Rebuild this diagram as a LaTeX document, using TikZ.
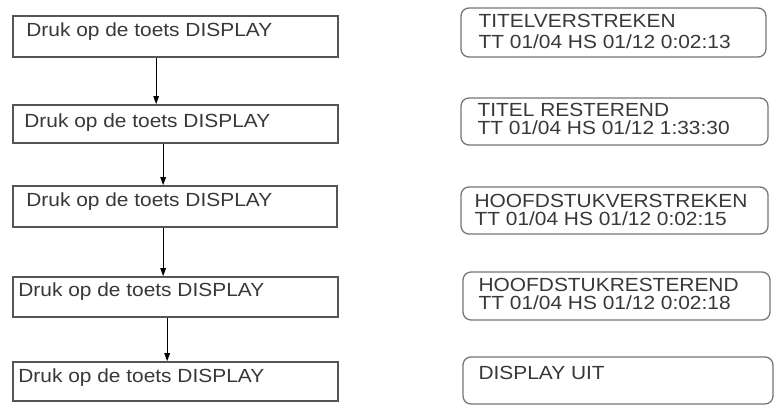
\documentclass[tikz,border=0pt]{standalone}
\usepackage{fontspec}
\setmainfont{Liberation Sans}[FakeStretch=1.1]
\usetikzlibrary{calc,arrows.meta}
\definecolor{txtgray}{HTML}{383838}
\definecolor{boxgray}{HTML}{555555}
\tikzset{
  lbox/.style={draw=boxgray, line width=1.7pt, rectangle, inner sep=0pt},
  rbox/.style={draw=boxgray!80, line width=1.3pt, rectangle, rounded corners=8pt, inner sep=0pt},
  txt/.style={inner sep=0pt, anchor=base west, text=txtgray, text height=13.5pt, text depth=0pt, font=\fontsize{19}{20}\selectfont},
  arr/.style={draw=black, line width=1.2pt, -{Triangle[length=8pt,width=5.5pt]}}
}
\begin{document}
\begin{tikzpicture}[x=1pt,y=-1pt]
\fill[white] (0,0) rectangle (776,407);
\useasboundingbox (0,0) rectangle (776,407);
% left boxes
\node[lbox, minimum width=325pt, minimum height=41pt] (l1) at (175.5,36.5) {};
\node[lbox, minimum width=325pt, minimum height=38pt] (l2) at (175.5,124) {};
\node[lbox, minimum width=324pt, minimum height=41pt] (l3) at (175,206.5) {};
\node[lbox, minimum width=325pt, minimum height=40pt] (l4) at (175.5,297) {};
\node[lbox, minimum width=325pt, minimum height=39pt] (l5) at (175.5,381.5) {};
\node[txt] (lt1) at ($(l1.north west)+(14,21)$) {Druk op de toets DISPLAY};
\node[txt] (lt2) at ($(l2.north west)+(12,23)$) {Druk op de toets DISPLAY};
\node[txt] (lt3) at ($(l3.north west)+(14,21)$) {Druk op de toets DISPLAY};
\node[txt] (lt4) at ($(l4.north west)+(6,20)$) {Druk op de toets DISPLAY};
\node[txt] (lt5) at ($(l5.north west)+(6,21)$) {Druk op de toets DISPLAY};
% arrows
\draw[arr] ($(l1.south west)+(144,0)$) -- ($(l2.north west)+(144,0)$);
\draw[arr] ($(l2.south west)+(151,0)$) -- ($(l3.north west)+(151,0)$);
\draw[arr] ($(l3.south west)+(151,0)$) -- ($(l4.north west)+(151,0)$);
\draw[arr] ($(l4.south west)+(155,0)$) -- ($(l5.north west)+(155,0)$);
% right boxes
\node[rbox, minimum width=305pt, minimum height=49pt] (r1) at (613.5,32.5) {};
\node[rbox, minimum width=307pt, minimum height=47pt] (r2) at (614.5,121.5) {};
\node[rbox, minimum width=307pt, minimum height=47pt] (r3) at (614.5,210.5) {};
\node[rbox, minimum width=307pt, minimum height=48pt] (r4) at (616.5,296) {};
\node[rbox, minimum width=310pt, minimum height=47pt] (r5) at (618,380.5) {};
\node[txt] (ra1) at ($(r1.north west)+(18,20)$) {TITELVERSTREKEN};
\node[txt] (rb1) at ($(r1.north west)+(18,41)$) {TT 01/04 HS 01/12 0:02:13};
\node[txt] (ra2) at ($(r2.north west)+(17,19)$) {TITEL RESTEREND};
\node[txt] (rb2) at ($(r2.north west)+(17,37.5)$) {TT 01/04 HS 01/12 1:33:30};
\node[txt] (ra3) at ($(r3.north west)+(14,21)$) {HOOFDSTUKVERSTREKEN};
\node[txt] (rb3) at ($(r3.north west)+(14,39)$) {TT 01/04 HS 01/12 0:02:15};
\node[txt] (ra4) at ($(r4.north west)+(16,20)$) {HOOFDSTUKRESTEREND};
\node[txt] (rb4) at ($(r4.north west)+(16,38.5)$) {TT 01/04 HS 01/12 0:02:18};
\node[txt] (ra5) at ($(r5.north west)+(16,23)$) {DISPLAY UIT};
\end{tikzpicture}
\end{document}
